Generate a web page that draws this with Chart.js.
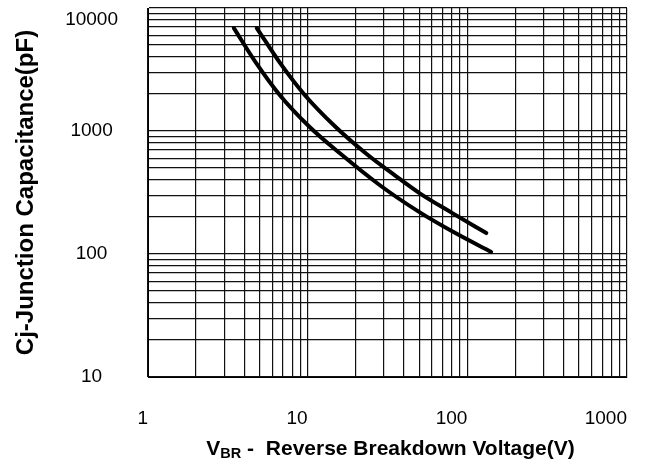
<!DOCTYPE html>
<html>
<head>
<meta charset="utf-8">
<script src="https://cdn.jsdelivr.net/npm/chart.js@4.4.0/dist/chart.umd.min.js"></script>
<style>
    html, body { margin: 0; padding: 0; background: #fff; }
    #wrap { width: 646px; height: 470px; }
</style>
</head>
<body>
<div id="wrap"><canvas id="grafico"></canvas></div>
<script>
// values
const voltageLow = [3.45, 4.8, 6.68, 10.29, 15.85, 28.2, 50.1, 84.1, 141];
const capLow = [6870, 3510, 1963, 1078, 662, 364, 219, 148, 104];
const voltageHigh = [4.8, 6.78, 9.58, 14.75, 23.4, 35.0, 50.1, 80.6, 131.5];
const capHigh = [6870, 3510, 1963, 1098, 650, 438, 313, 215, 148];
const xTickLabels = ['1', '10', '100', '1000'];
const yTickLabels = ['10', '100', '1000', '10000'];
const xTitleMain = 'V';
const xTitleSub = 'BR';
const xTitleRest = ' -  Reverse Breakdown Voltage(V)';
const yTitle = 'Cj-Junction Capacitance(pF)';

const family = '"Liberation Sans", Arial, sans-serif';

// grid lines at 1..9 of every decade
function gridValues(labels) {
    let values = [];
    let first = Number(labels[0]);
    let last = Number(labels[labels.length - 1]);
    for (let d = first; d < last; d *= 10) {
        for (let k = 1; k < 10; k++) values.push(k * d);
    }
    values.push(last);
    return values;
}

function pares(xs, ys) {
    return xs.map((x, i) => ({ x: x, y: ys[i] }));
}

function rotuloY(v) {
    let s = String(v);
    if (!yTickLabels.includes(s)) return '';
    // top label sits a little below the frame, as in the original
    if (s === yTickLabels[yTickLabels.length - 1]) return ['', s];
    return s;
}

const xTitlePlugin = {
    id: 'xTitle',
    afterDraw(chart) {
        const { ctx, chartArea } = chart;
        const big = 'bold 21px ' + family;
        const small = 'bold 14.5px ' + family;
        ctx.save();
        ctx.fillStyle = '#000';
        ctx.textBaseline = 'alphabetic';
        ctx.font = big;
        const wMain = ctx.measureText(xTitleMain).width;
        const wRest = ctx.measureText(xTitleRest).width;
        ctx.font = small;
        const wSub = ctx.measureText(xTitleSub).width;
        let x = (chartArea.left + chartArea.right) / 2 + 3 - (wMain + wSub + wRest) / 2;
        const y = chartArea.bottom + 78;
        ctx.font = big;
        ctx.fillText(xTitleMain, x, y);
        x += wMain;
        ctx.font = small;
        ctx.fillText(xTitleSub, x, y + 3);
        x += wSub;
        ctx.font = big;
        ctx.fillText(xTitleRest, x, y);
        ctx.restore();
    }
};

const grafico = document.getElementById('grafico');

new Chart(grafico, {
    type: 'line',
    data: {
        datasets: [{
            data: pares(voltageLow, capLow),
            borderColor: '#000',
            borderWidth: 4,
            cubicInterpolationMode: 'monotone',
            borderCapStyle: 'round',
            pointRadius: 0
        }, {
            data: pares(voltageHigh, capHigh),
            borderColor: '#000',
            borderWidth: 4,
            cubicInterpolationMode: 'monotone',
            borderCapStyle: 'round',
            pointRadius: 0
        }]
    },
    options: {
        responsive: true,
        maintainAspectRatio: false,
        animation: false,
        layout: { padding: { top: 8, right: 19, left: 0, bottom: 0 } },
        plugins: {
            legend: { display: false },
            tooltip: { enabled: false }
        },
        scales: {
            x: {
                type: 'logarithmic',
                min: 1,
                max: 1000,
                afterBuildTicks: s => { s.ticks = gridValues(xTickLabels).map(v => ({ value: v })); },
                afterFit: s => { s.height = 93; s.paddingLeft = 0; s.paddingRight = 0; },
                grid: { color: '#111', lineWidth: 1.2, drawTicks: false },
                border: { color: '#000', width: 1 },
                ticks: {
                    autoSkip: false,
                    maxRotation: 0,
                    align: 'end',
                    padding: 30,
                    color: '#000',
                    font: { family: family, size: 19 },
                    callback: v => xTickLabels.includes(String(v)) ? String(v) : ''
                }
            },
            y: {
                type: 'logarithmic',
                min: 10,
                max: 10000,
                afterBuildTicks: s => { s.ticks = gridValues(yTickLabels).map(v => ({ value: v })); },
                afterFit: s => { s.width = 148; s.paddingTop = 0; s.paddingBottom = 0; },
                grid: { color: '#111', lineWidth: 1.2, drawTicks: false },
                border: { color: '#000', width: 1 },
                title: {
                    display: true,
                    text: yTitle,
                    color: '#000',
                    font: { family: family, size: 24, weight: 'bold' },
                    padding: { top: 12, bottom: 0 }
                },
                ticks: {
                    autoSkip: false,
                    crossAlign: 'center',
                    padding: 30,
                    color: '#000',
                    font: { family: family, size: 19 },
                    callback: rotuloY
                }
            }
        }
    },
    plugins: [xTitlePlugin]
});
</script>
</body>
</html>
